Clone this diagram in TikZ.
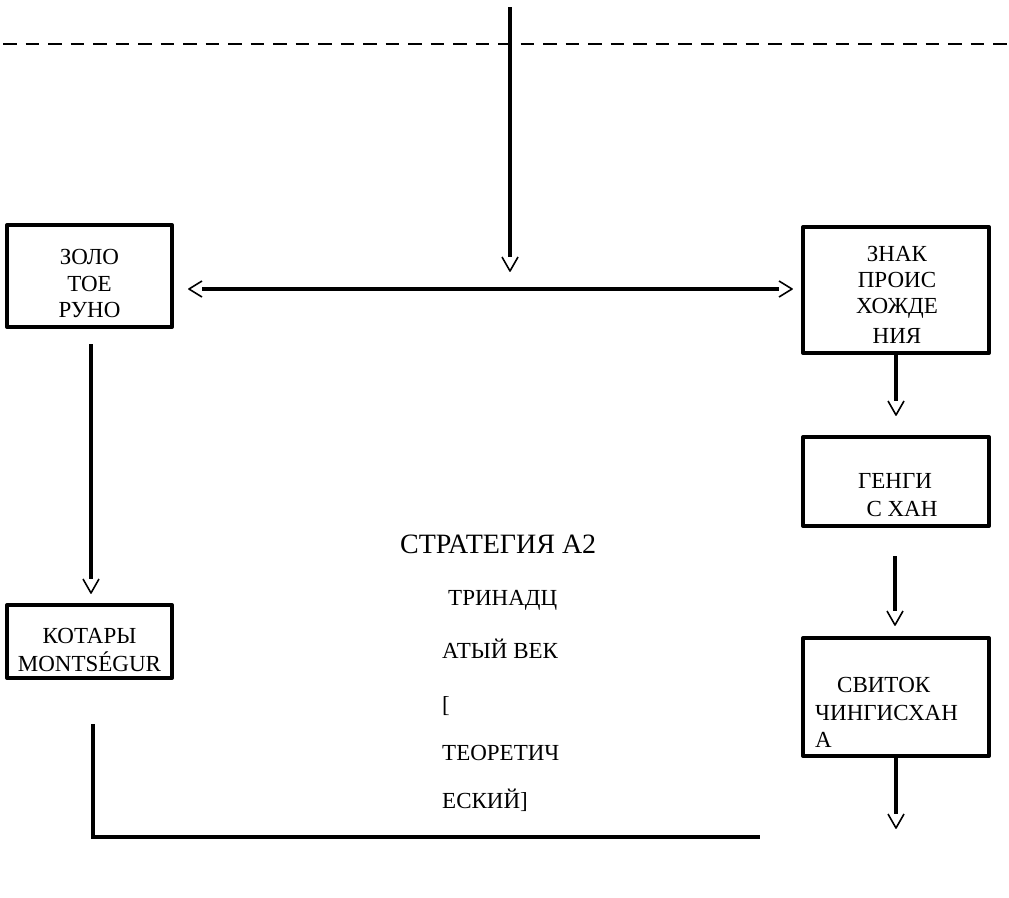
\documentclass[tikz,border=0pt]{standalone}
\usepackage{fontspec}
\setmainfont{Liberation Serif}
\usetikzlibrary{arrows.meta}
\pgfdeclarearrow{
  name = OpenV,
  parameters = {\the\pgfarrowlength,\the\pgfarrowwidth},
  setup code = {
    \pgfarrowssettipend{0pt}
    \pgfarrowssetlineend{-\pgfarrowlength}
    \pgfarrowssetvisualbackend{-\pgfarrowlength}
    \pgfarrowssetbackend{-\pgfarrowlength}
    \pgfarrowshullpoint{0pt}{0pt}
    \pgfarrowsupperhullpoint{-\pgfarrowlength}{.5\pgfarrowwidth}
    \pgfarrowssavethe\pgfarrowlength
    \pgfarrowssavethe\pgfarrowwidth
  },
  drawing code = {
    \pgfsetdash{}{0pt}
    \pgfsetlinewidth{1.6pt}
    \pgfsetroundjoin
    \pgfsetbuttcap
    \pgfpathmoveto{\pgfqpoint{-\pgfarrowlength}{.5\pgfarrowwidth}}
    \pgfpathlineto{\pgfpointorigin}
    \pgfpathlineto{\pgfqpoint{-\pgfarrowlength}{-.5\pgfarrowwidth}}
    \pgfusepathqstroke
  },
  defaults = {length = 14pt, width = 16pt}
}
\begin{document}
\begin{tikzpicture}[x=1pt,y=-1pt,
  box/.style={draw, line width=4pt, line join=round, inner sep=0pt},
  txt/.style={font=\fontsize{23}{27}\selectfont, inner sep=0pt, anchor=base},
  ltxt/.style={txt, anchor=base west},
  conn/.style={line width=3.5pt},
  arr/.style={conn, -{OpenV[length=14pt,width=16pt]}},
  darr/.style={conn, {OpenV[length=13pt,width=16pt]}-{OpenV[length=13pt,width=16pt]}}]
\useasboundingbox (0,0) rectangle (1009,897);

% dashed line and top arrow
\coordinate (d0) at (3,44);
\coordinate (d1) at (1009,44);
\draw[line width=2.3pt, dash pattern=on 13.5pt off 9pt] (d0) -- (d1);
\coordinate (t0) at (510,7);
\coordinate (t1) at (510,271);
\draw[arr] (t0) -- (t1);

% boxes
\node[box, minimum width=165pt, minimum height=102pt] (zolo) at (89.5,276) {};
\node[box, minimum width=186pt, minimum height=126pt] (znak) at (896,290) {};
\node[box, minimum width=186pt, minimum height=89pt] (geng) at (896,481.5) {};
\node[box, minimum width=186pt, minimum height=118pt] (svit) at (896,697) {};
\node[box, minimum width=165pt, minimum height=73pt] (kot) at (89.5,641.5) {};

% box texts
\node[txt] (zoloA) at (89.5,264) {ЗОЛО};
\node[txt] (zoloB) at (89.5,291) {ТОЕ};
\node[txt] (zoloC) at (89.5,317) {РУНО};

\node[txt] (znakA) at (897,261) {ЗНАК};
\node[txt] (znakB) at (897,287) {ПРОИС};
\node[txt] (znakC) at (897,313) {ХОЖДЕ};
\node[txt] (znakD) at (897,343) {НИЯ};

\node[txt] (gengA) at (895,488) {ГЕНГИ};
\node[txt] (gengB) at (902,516) {С ХАН};

\node[ltxt] (svitA) at (837,692) {СВИТОК};
\node[ltxt] (svitB) at (815,720) {ЧИНГИСХАН};
\node[ltxt] (svitC) at (815,747) {А};

\node[txt] (kotA) at (89.5,643) {КОТАРЫ};
\node[txt] (kotB) at (89.5,671) {MONTSÉGUR};

% centre texts
\node[txt, anchor=base west, font=\fontsize{28}{32}\selectfont] (title) at (400,553) {СТРАТЕГИЯ А2};
\node[ltxt] (c1) at (448,605) {ТРИНАДЦ};
\node[ltxt] (c2) at (442,658) {АТЫЙ ВЕК};
\node[ltxt] (c3) at (442,712) {[};
\node[ltxt] (c4) at (442,760) {ТЕОРЕТИЧ};
\node[ltxt] (c5) at (442,808) {ЕСКИЙ]};

% connectors
\coordinate (h0) at (189,289);
\coordinate (h1) at (792,289);
\draw[darr] (h0) -- (h1);
\draw[arr] ([xshift=1.5pt,yshift=-15pt]zolo.south) -- ([xshift=1.5pt,yshift=10pt]kot.north);
\draw[arr] ([yshift=3pt]znak.south) -- ([yshift=20pt]geng.north);
\draw[arr] ([xshift=-1pt,yshift=-28pt]geng.south) -- ([xshift=-1pt,yshift=11pt]svit.north);
\coordinate (s1) at (896,828);
\draw[arr] ([yshift=3pt]svit.south) -- (s1);
\coordinate (b1) at (760,837);
\draw[conn] ([xshift=3.5pt,yshift=-44pt]kot.south) |- (b1);
\end{tikzpicture}
\end{document}
